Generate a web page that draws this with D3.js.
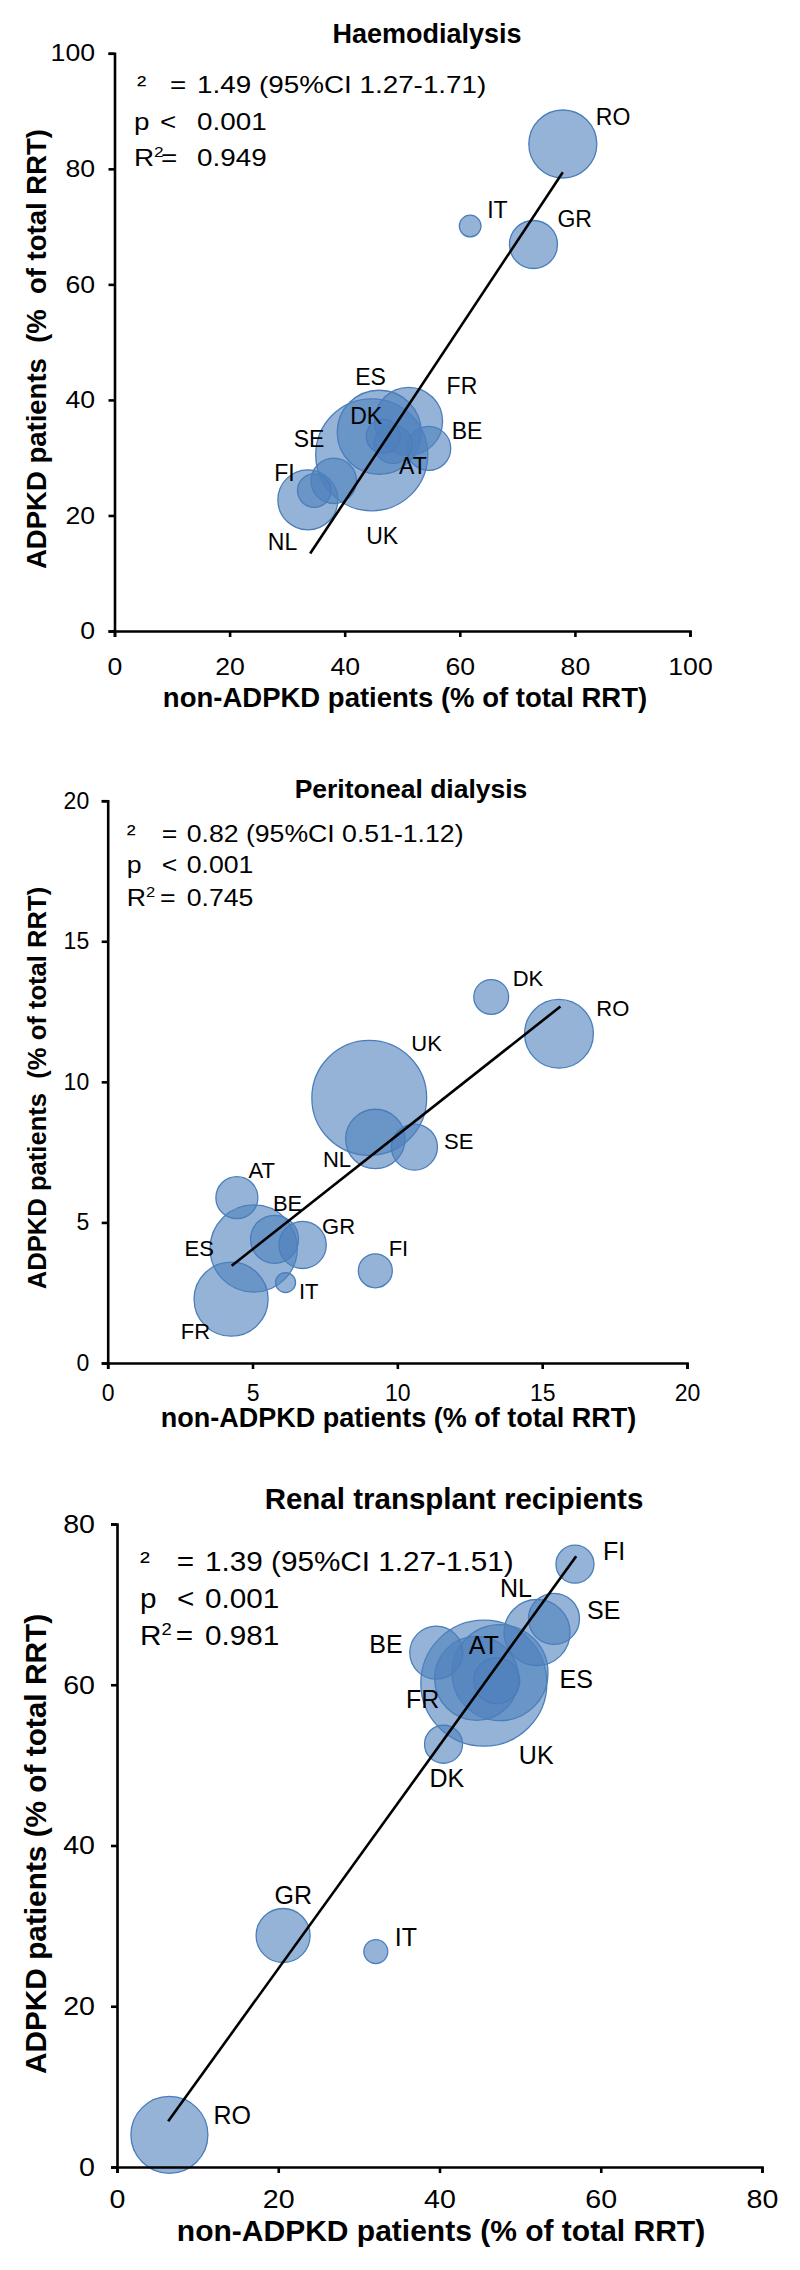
<!DOCTYPE html>
<html>
<head>
<meta charset="utf-8">
<script src="https://cdn.jsdelivr.net/npm/d3@7/dist/d3.min.js"></script>
<style>
  html, body { margin: 0; padding: 0; background: #fff; }
  svg { display: block; font-family: "Liberation Sans", Arial, sans-serif; }
  .pre { white-space: pre; }
</style>
</head>
<body>
<script>
// ---------------- DATA ----------------
const countries = ["AT","BE","DK","ES","FI","FR","GR","IT","NL","RO","SE","UK"];

// Haemodialysis (% of total RRT)
const hdNonADPKD = [48.4, 54.6, 46.7, 46.0, 34.7, 51.1, 72.8, 61.8, 33.6, 77.9, 38.1, 44.7];
const hdADPKD    = [32.3, 31.6, 33.7, 34.4, 24.3, 36.3, 66.9, 70.1, 22.7, 84.3, 26.0, 30.5];
const hdSize     = [361, 484, 289, 1764, 279, 1156, 576, 117, 900, 1156, 515, 3136];
const hdTicks    = [0, 20, 40, 60, 80, 100];
const hdTrendX   = [34.0, 77.9];
const hdTrendY   = [13.4, 79.4];
const hdStats    = ["1.49 (95%CI 1.27-1.71)", "0.001", "0.949"];

// Peritoneal dialysis
const pdNonADPKD = [4.46, 5.76, 13.24, 5.04, 9.24, 4.26, 6.73, 6.14, 9.24, 15.58, 10.59, 9.03];
const pdADPKD    = [5.88, 4.40, 13.02, 4.07, 3.28, 2.27, 4.20, 2.86, 7.97, 11.71, 7.68, 9.43];
const pdSize     = [441, 576, 303, 1901, 289, 1369, 557, 100, 882, 1183, 529, 3295];
const pdTicks    = [0, 5, 10, 15, 20];
const pdTrendX   = [4.28, 15.63];
const pdTrendY   = [3.46, 12.68];
const pdStats    = ["0.82 (95%CI 0.51-1.12)", "0.001", "0.745"];

// Renal transplant recipients
const txNonADPKD = [47.1, 39.6, 40.5, 47.5, 56.8, 44.6, 20.6, 32.1, 52.1, 6.5, 54.2, 45.5];
const txADPKD    = [60.5, 64.0, 52.6, 61.5, 75.0, 60.8, 28.8, 26.8, 66.5, 4.0, 68.2, 60.2];
const txSize     = [529, 702, 361, 2304, 361, 1764, 729, 144, 1089, 1482, 650, 3969];
const txTicks    = [0, 20, 40, 60, 80];
const txTrendX   = [6.35, 56.95];
const txTrendY   = [5.7, 76.0];
const txStats    = ["1.39 (95%CI 1.27-1.51)", "0.001", "0.981"];

const titles = ["Haemodialysis", "Peritoneal dialysis", "Renal transplant recipients"];
const xTitle = "non-ADPKD patients (% of total RRT)";
const yTitles = ["ADPKD patients  (%  of total RRT)", "ADPKD patients  (% of total RRT)", "ADPKD patients (% of total RRT)"];

// ---------------- LAYOUT ----------------
const layouts = [
  { px: [114.5, 690], py: [631, 53.3], dom: 100, tickFont: 24, tickStretch: 1.11, xPad: 21, yGap: 19.5,
    title: { x: 427, y: 43, size: 27 }, xt: { x: 405, y: 707, size: 27.5 }, yt: { x: 46, y: 349, size: 27.5 },
    stats: { size: 24, k: 1.16, y: [93, 130, 166], a: [137, 134, 134], b: [170, 160, 161], c: 197 },
    labelSize: 23,
    off: { AT:[6,30], BE:[23,-9], DK:[-33,-12], ES:[-24,-47], FI:[-40,-10], FR:[38,-27.5], GR:[24,-17.5],
           IT:[17,-8], NL:[-40,50], RO:[33,-19], SE:[-40,-34], UK:[-5.5,89] } },
  { px: [107.7, 687], py: [1363, 800.7], dom: 20, tickFont: 23, tickStretch: 1.0, xPad: 16, yGap: 18.5,
    title: { x: 411, y: 798, size: 26.5 }, xt: { x: 398.5, y: 1427, size: 27 }, yt: { x: 46, y: 1088, size: 25.6 },
    stats: { size: 24, k: 1.11, y: [842, 873, 906], a: [126.7, 126.7, 126.7], b: [161.7, 161.7, 160], c: 186.7 },
    labelSize: 22,
    off: { AT:[11.7,-19.5], BE:[-1.6,-28.3], DK:[21.5,-11], ES:[-69.2,7.4], FI:[13.3,-14.6], FR:[-50.3,39.7],
           GR:[19.4,-11], IT:[13.4,16.5], NL:[-52.4,28], RO:[37.4,-17.6], SE:[29.6,2.2], UK:[42,-46.5] } },
  { px: [117, 762], py: [2167, 1524], dom: 80, tickFont: 26, tickStretch: 1.1, xPad: 17, yGap: 22,
    title: { x: 454, y: 1509, size: 29.5 }, xt: { x: 441, y: 2241, size: 30 }, yt: { x: 46, y: 1844, size: 29.8 },
    stats: { size: 27, k: 1.1, y: [1571, 1608, 1645], a: [140, 140, 140], b: [176.7, 177, 175.7], c: 205 },
    labelSize: 25,
    off: { AT:[-28,-27], BE:[-67,0], DK:[-14,43], ES:[59.5,15], FI:[28,-4], FR:[-70.5,30], GR:[-8.5,-32],
           IT:[19,-6], NL:[-37,-35.5], RO:[44,-11], SE:[33,0], UK:[35,81] } }
];

const panels = [
  { xs: hdNonADPKD, ys: hdADPKD, ss: hdSize, ticks: hdTicks, tx: hdTrendX, ty: hdTrendY, stats: hdStats },
  { xs: pdNonADPKD, ys: pdADPKD, ss: pdSize, ticks: pdTicks, tx: pdTrendX, ty: pdTrendY, stats: pdStats },
  { xs: txNonADPKD, ys: txADPKD, ss: txSize, ticks: txTicks, tx: txTrendX, ty: txTrendY, stats: txStats }
];

// ---------------- DRAW ----------------
const svg = d3.select("body").append("svg").attr("width", 800).attr("height", 2270);
svg.append("rect").attr("width", 800).attr("height", 2270).attr("fill", "#fff");

const rScale = d3.scaleSqrt().domain([0, 10000]).range([0, 100]);

panels.forEach((p, i) => {
  const L = layouts[i];
  const x = d3.scaleLinear().domain([0, L.dom]).range(L.px);
  const y = d3.scaleLinear().domain([0, L.dom]).range(L.py);
  const g = svg.append("g");

  const data = countries.map((c, k) => ({ c, x: p.xs[k], y: p.ys[k], s: p.ss[k] }))
    .sort((a, b) => b.s - a.s);

  // bubbles
  g.append("g").selectAll("circle").data(data).join("circle")
    .attr("cx", d => x(d.x)).attr("cy", d => y(d.y)).attr("r", d => rScale(d.s))
    .attr("fill", "#4F81BD").attr("fill-opacity", 0.6)
    .attr("stroke", "#4A7EBB").attr("stroke-width", 1.3);

  // trendline
  g.append("line")
    .attr("x1", x(p.tx[0])).attr("y1", y(p.ty[0]))
    .attr("x2", x(p.tx[1])).attr("y2", y(p.ty[1]))
    .attr("stroke", "#000").attr("stroke-width", 2.6);

  // axes
  const k = L.tickStretch;
  const xAxis = g.append("g").attr("transform", `translate(0,${L.py[0]})`)
    .call(d3.axisBottom(x).tickValues(p.ticks).tickSize(6).tickSizeOuter(6).tickPadding(L.xPad).tickFormat(d3.format("d")));
  const yAxis = g.append("g").attr("transform", `translate(${L.px[0]},0)`)
    .call(d3.axisLeft(y).tickValues(p.ticks).tickSize(6).tickSizeOuter(6).tickFormat(d3.format("d")));
  [xAxis, yAxis].forEach(a => {
    a.attr("font-family", null).attr("font-size", null);
    a.select(".domain").attr("stroke", "#000").attr("stroke-width", 2.6);
    a.selectAll(".tick line").attr("stroke", "#000").attr("stroke-width", 2.6);
    a.selectAll(".tick text").attr("fill", "#000").style("font-size", L.tickFont + "px")
      .attr("transform", `scale(${k},1)`);
  });
  yAxis.selectAll(".tick text").attr("x", -L.yGap / k);

  // labels
  g.append("g").selectAll("text").data(data).join("text")
    .attr("x", d => x(d.x) + L.off[d.c][0])
    .attr("y", d => y(d.y) + L.off[d.c][1])
    .style("font-size", L.labelSize + "px").attr("fill", "#000")
    .text(d => d.c);

  // title
  g.append("text").attr("x", L.title.x).attr("y", L.title.y).attr("text-anchor", "middle")
    .style("font-size", L.title.size + "px").style("font-weight", "bold").text(titles[i]);

  // axis titles
  g.append("text").attr("x", L.xt.x).attr("y", L.xt.y).attr("text-anchor", "middle").attr("class", "pre")
    .style("font-size", L.xt.size + "px").style("font-weight", "bold").text(xTitle);
  g.append("text").attr("transform", `translate(${L.yt.x},${L.yt.y}) rotate(-90)`).attr("text-anchor", "middle")
    .attr("class", "pre").style("font-size", L.yt.size + "px").style("font-weight", "bold").text(yTitles[i]);

  // stats text (horizontally stretched like the reference)
  const S = L.stats;
  const st = g.append("g").style("font-size", S.size + "px").attr("fill", "#000");
  const put = (tx, ty) => st.append("text").attr("transform", `translate(${tx},${ty}) scale(${S.k},1)`);
  put(S.a[0], S.y[0]).text("²");
  put(S.b[0], S.y[0]).text("=");
  put(S.c, S.y[0]).text(p.stats[0]);
  put(S.a[1], S.y[1]).text("p");
  put(S.b[1], S.y[1]).text("<");
  put(S.c, S.y[1]).text(p.stats[1]);
  const r2 = put(S.a[2], S.y[2]);
  r2.append("tspan").text("R");
  r2.append("tspan").attr("dy", -S.size * 0.38).style("font-size", (S.size * 0.62) + "px").text("2");
  put(S.b[2], S.y[2]).text("=");
  put(S.c, S.y[2]).text(p.stats[2]);
});
</script>
</body>
</html>
